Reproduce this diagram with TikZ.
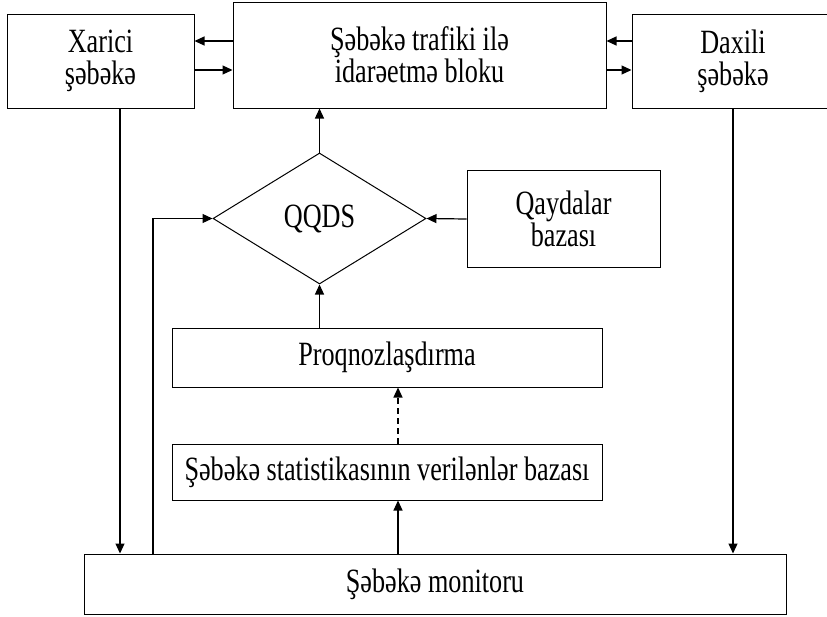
\documentclass[tikz,border=0pt]{standalone}
\usepackage{fontspec}
\setmainfont{Liberation Serif}[FakeStretch=0.77]
\usepackage{tikz}
\usetikzlibrary{shapes.geometric, arrows.meta, positioning, calc}

\begin{document}
\begin{tikzpicture}[
  x=1pt, y=-1pt,
  bl/.style={draw, line width=1pt, align=center, inner sep=0pt,
             font=\fontsize{34}{32}\selectfont},
  romb/.style={bl, diamond, aspect=1.63},
  pr/.style={-{Triangle[length=10pt, width=9pt]}, line width=1.2pt},
  qr/.style={pr, dashed, dash pattern=on 6pt off 4pt}
]
  \useasboundingbox (0,0) rectangle (827,616);

  \node[bl, minimum width=187pt, minimum height=94pt] (xar) at (100.5,61) {Xarici\\şəbəkə};
  \node[bl, minimum width=373pt, minimum height=106pt] (blok) at (419.5,55) {Şəbəkə trafiki ilə\\idarəetmə bloku};
  \node[bl, minimum width=202pt, minimum height=94pt] (dax) at (733,61) {Daxili\\şəbəkə};
  \node[romb, minimum width=213pt, minimum height=131pt] (qqds) at (319.5,218.5) {QQDS};
  \node[bl, minimum width=193pt, minimum height=97pt] (qay) at (563.5,219) {Qaydalar\\bazası};
  \node[bl, minimum width=430pt, minimum height=59pt] (proq) at (387,357.5) {Proqnozlaşdırma};
  \node[bl, minimum width=430pt, minimum height=56pt] (stat) at (387,472) {Şəbəkə statistikasının verilənlər bazası};
  \node[bl, minimum width=702pt, minimum height=60pt] (mon) at (435,584) {Şəbəkə monitoru};

  % yuxari oxlar
  \draw[pr] (blok.west |- 0,41) -- (xar.east |- 0,41);
  \draw[pr] (xar.east |- 0,70) -- (blok.west |- 0,70);
  \draw[pr] (dax.west |- 0,41) -- (blok.east |- 0,41);
  \draw[pr] (blok.east |- 0,70) -- (dax.west |- 0,70);
  \draw[pr] (qqds.north) -- (qqds.north |- blok.south);
  \draw[pr] (qay.west) -- (qqds.east);
  \draw[pr] (proq.north -| qqds.south) -- (qqds.south);

  % asagi hisse
  \draw[qr] ([xshift=11pt]stat.north) -- ([xshift=11pt]proq.south);
  \draw[pr] ([xshift=11pt]mon.north -| stat.south) -- ([xshift=11pt]stat.south);
  \draw[pr] ([xshift=19.5pt]xar.south) -- ([xshift=19.5pt]xar.south |- mon.north);
  \draw[pr] (dax.south) -- (dax.south |- mon.north);
  \draw[pr] (mon.north -| 153,0) |- (qqds.west);
\end{tikzpicture}
\end{document}
